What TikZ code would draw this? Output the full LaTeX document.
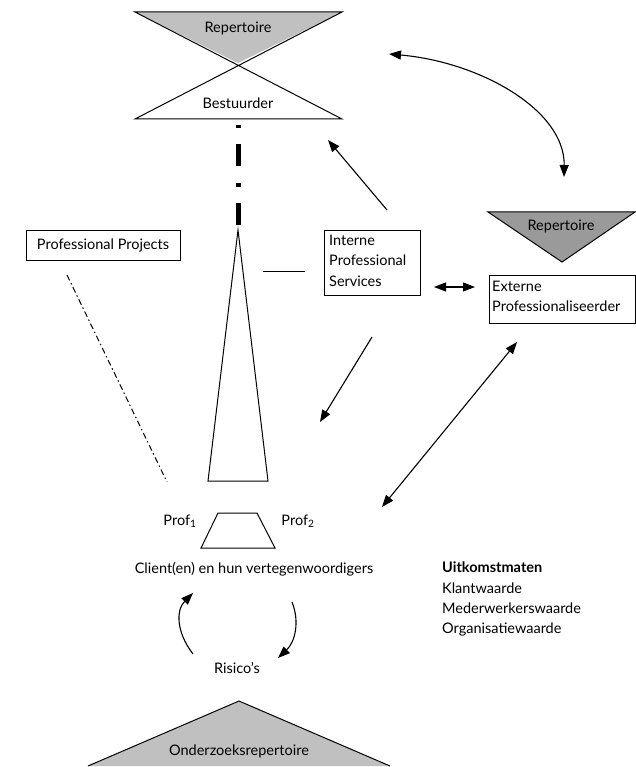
\documentclass[tikz,border=0pt]{standalone}
\usepackage{fontspec}
\setmainfont{Lato}
\usetikzlibrary{arrows.meta}
\definecolor{lightgr}{HTML}{C0C0C0}
\definecolor{darkgr}{HTML}{9A9A9A}
\begin{document}
\begin{tikzpicture}[x=1pt,y=-1pt,
  every node/.style={font=\fontsize{14.5}{20.3}\selectfont, inner sep=0pt},
  shp/.style={draw=black, line width=1pt, line join=miter},
  boxn/.style={draw=black, line width=1pt, inner sep=4pt, align=left},
  arr/.style={line width=1.1pt, -{Triangle[length=12pt,width=9pt]}},
  darr/.style={line width=1.1pt, {Triangle[length=12pt,width=9pt]}-{Triangle[length=12pt,width=9pt]}},
  ]
\useasboundingbox (0,0) rectangle (636,767);
% hourglass
\fill[lightgr] (135,12) -- (342,12) -- (238,63) -- cycle;
\draw[shp] (135,12) -- (342,12) -- (135,119) -- (342,119) -- cycle;
\node (rep1) at (238,28) {Repertoire};
\node (best) at (238,103) {Bestuurder};
% thick dash-dot
\coordinate (dd1) at (238,125);
\coordinate (dd2) at (238,225);
\draw[line width=5pt, dash pattern=on 3.5pt off 16pt on 22pt off 17pt] (dd1) -- (dd2);
% tall triangle
\draw[shp] (238,230) -- (268,481) -- (208,481) -- cycle;
% short line
\coordinate (sl1) at (263,271);
\coordinate (sl2) at (305,271);
\draw[line width=1pt] (sl1) -- (sl2);
% Professional projects
\node[boxn, minimum width=154pt, minimum height=30pt, align=center] (pp) at (103,245) {Professional Projects};
\coordinate (pp1) at (67,275);
\coordinate (pp2) at (167,482);
\draw[line width=1pt, dash pattern=on 6pt off 3pt on 1.5pt off 3pt] (pp1) -- (pp2);
% Interne
\node[boxn, anchor=north west, minimum width=96pt, minimum height=65pt, inner sep=0pt] (ips) at (324,230) {};
\node[anchor=north west, align=left] (ipst) at (329,235) {Interne\\Professional\\Services};
% Externe
\node[boxn, anchor=north west, minimum width=146pt, minimum height=48pt, inner sep=0pt] (ext) at (489,275) {};
\node[anchor=north west, align=left] (extt) at (492,281) {Externe\\Professionaliseerder};
% right Repertoire
\filldraw[fill=darkgr, draw=black, line width=1pt] (488,212) -- (635,212) -- (562,262) -- cycle;
\node (rep2) at (561,226) {Repertoire};
% arrows
\coordinate (a1s) at (387,210);
\coordinate (a1e) at (328,140);
\draw[arr] (a1s) -- (a1e);
\coordinate (a2s) at (372,337);
\coordinate (a2e) at (320,422);
\draw[arr] (a2s) -- (a2e);
\coordinate (a3s) at (434,287);
\coordinate (a3e) at (475,287);
\draw[darr] (a3s) -- (a3e);
\coordinate (a4s) at (382,507);
\coordinate (a4e) at (517,342);
\draw[darr] (a4s) -- (a4e);
\coordinate (a5s) at (389,54);
\coordinate (a5e) at (564,177);
\draw[darr] (a5s) .. controls (480,62) and (565,110) .. (a5e);
% trapezoid
\draw[shp] (218,513) -- (257,513) -- (275,548) -- (201,548) -- cycle;
\node (p1) at (180,521) {Prof\textsubscript{1}};
\node (p2) at (298,521) {Prof\textsubscript{2}};
\node (cl) at (254,569) {Client(en) en hun vertegenwoordigers};
% outcome
\node[anchor=north west, align=left] (uit) at (442,562) {\textbf{Uitkomstmaten}\\Klantwaarde\\Mederwerkerswaarde\\Organisatiewaarde};
% cycle arrows
\node (ris) at (237,668) {Risico's};
\coordinate (c1s) at (193,654);
\coordinate (c1e) at (193,593);
\draw[arr] (c1s) .. controls (176,632) and (176,610) .. (c1e);
\coordinate (c2s) at (292,602);
\coordinate (c2e) at (278,658);
\draw[arr] (c2s) .. controls (300,622) and (295,642) .. (c2e);
% bottom triangle
\filldraw[fill=lightgr, draw=black, line width=1pt] (88,766) -- (239,701) -- (390,766);
\node (onz) at (239,751) {Onderzoeksrepertoire};
\end{tikzpicture}
\end{document}
